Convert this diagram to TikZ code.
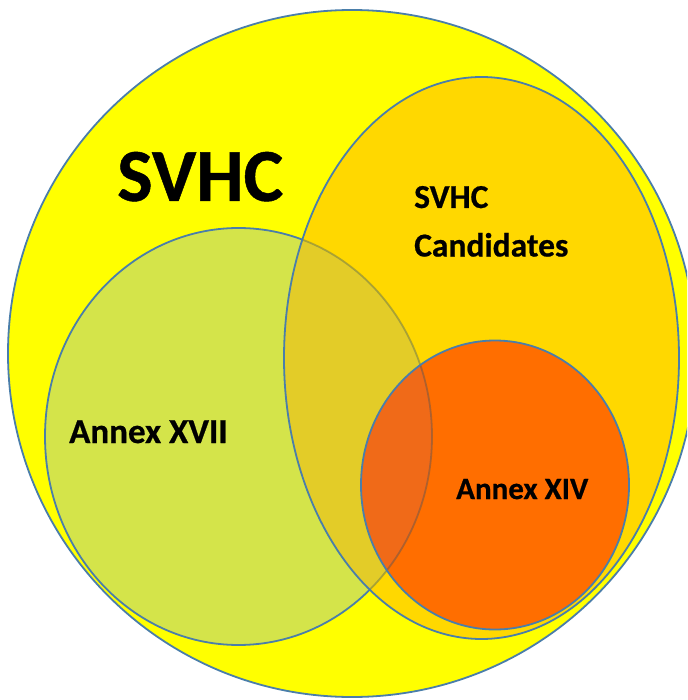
\documentclass[tikz,border=0pt]{standalone}
\usepackage{fontspec}
\setmainfont{Carlito}[BoldFeatures={FakeBold=0.6}]
\definecolor{bordercol}{RGB}{74,126,170}
\definecolor{bigyellow}{RGB}{255,255,0}
\definecolor{greenfill}{RGB}{212,228,74}
\definecolor{goldfill}{RGB}{255,216,0}
\definecolor{gg}{RGB}{227,204,40}
\definecolor{orangefill}{RGB}{255,110,0}
\definecolor{og}{RGB}{240,106,24}
\tikzset{
  outline/.style={draw=bordercol, line width=1.8pt},
  faint/.style={draw=bordercol!60!black, line width=1.8pt, opacity=0.35},
  lbl/.style={anchor=base west, inner sep=0pt, font=\bfseries, text=black},
}
\begin{document}
\begin{tikzpicture}[x=1pt,y=-1pt]
\useasboundingbox (0,0) rectangle (687,700);
\clip (0,0) rectangle (687,700);
% big circle
\path[fill=bigyellow, outline] (352,353.5) ellipse [x radius=344pt, y radius=343.5pt];
% Annex XVII
\path[fill=greenfill, outline] (238.5,436.5) ellipse [x radius=193.5pt, y radius=208.5pt];
% SVHC candidates
\path[fill=goldfill] (481.5,358) ellipse [x radius=197.5pt, y radius=281pt];
\begin{scope}
  \clip (238.5,436.5) ellipse [x radius=193.5pt, y radius=208.5pt];
  \fill[gg] (481.5,358) ellipse [x radius=197.5pt, y radius=281pt];
\end{scope}
\begin{scope}
  \clip (481.5,358) ellipse [x radius=197.5pt, y radius=281pt];
  \path[faint] (238.5,436.5) ellipse [x radius=193.5pt, y radius=208.5pt];
\end{scope}
\path[outline] (481.5,358) ellipse [x radius=197.5pt, y radius=281pt];
% Annex XIV
\path[fill=orangefill] (495,485) ellipse [x radius=134pt, y radius=144.5pt];
\begin{scope}
  \clip (238.5,436.5) ellipse [x radius=193.5pt, y radius=208.5pt];
  \fill[og] (495,485) ellipse [x radius=134pt, y radius=144.5pt];
\end{scope}
\begin{scope}
  \clip (495,485) ellipse [x radius=134pt, y radius=144.5pt];
  \path[faint] (238.5,436.5) ellipse [x radius=193.5pt, y radius=208.5pt];
\end{scope}
\path[outline] (495,485) ellipse [x radius=134pt, y radius=144.5pt];
% labels
\node[lbl, font=\bfseries\fontsize{75}{80}\selectfont] (svhc) at (117,201) {SVHC};
\node[lbl, font=\bfseries\fontsize{33.5}{36}\selectfont] (cand1) at (414,208) {SVHC};
\node[lbl, font=\bfseries\fontsize{33.5}{36}\selectfont] (cand2) at (414,256.5) {Candidates};
\node[lbl, font=\bfseries\fontsize{35}{38}\selectfont] (a17) at (69,443) {Annex XVII};
\node[lbl, font=\bfseries\fontsize{31}{34}\selectfont] (a14) at (456,499) {Annex XIV};
\end{tikzpicture}
\end{document}
